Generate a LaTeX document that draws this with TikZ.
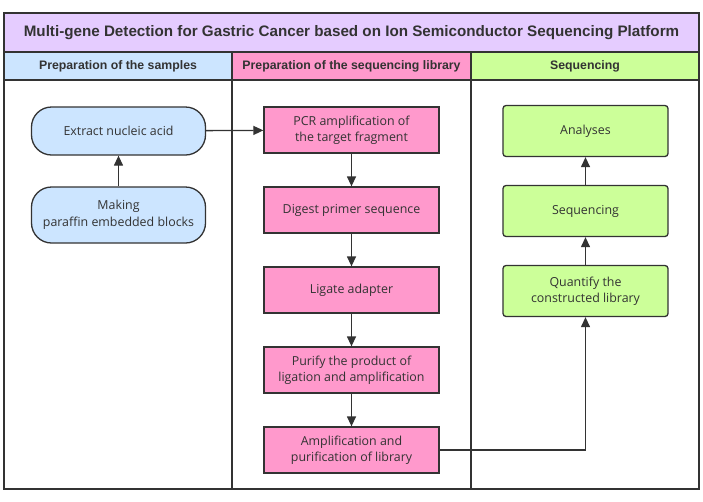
\documentclass[tikz,border=0pt]{standalone}
\usepackage{fontspec}
\setmainfont{Open Sans}
\newfontfamily\headfont{Liberation Sans}
\usetikzlibrary{arrows.meta}

\definecolor{titlefill}{HTML}{E5CCFF}
\definecolor{bluefill}{HTML}{CCE5FF}
\definecolor{pinkfill}{HTML}{FF99CC}
\definecolor{greenfill}{HTML}{CCFF99}
\definecolor{linegray}{HTML}{333333}

\tikzset{
  band/.style={draw=linegray,line width=1.3pt,inner sep=0pt,text=linegray},
  titleband/.style={band,fill=titlefill,minimum width=695pt,minimum height=39pt,
    font=\headfont\bfseries\fontsize{15.2}{18}\selectfont},
  headband/.style={band,minimum height=28pt,
    font=\headfont\bfseries\fontsize{12.3}{14}\selectfont},
  stepnode/.style={draw=linegray,line width=1.3pt,text=linegray,align=center,
    inner sep=0pt,font=\fontsize{12.4}{16.5}\selectfont},
  samplenode/.style={stepnode,fill=bluefill,rounded corners=20pt,
    minimum width=174pt},
  librarynode/.style={stepnode,fill=pinkfill,minimum width=175pt,minimum height=46pt},
  seqnode/.style={stepnode,fill=greenfill,rounded corners=3pt,
    minimum width=165pt,minimum height=51pt},
  flow/.style={draw=linegray,line width=1.3pt,-{Triangle[length=10pt,width=9pt]}}
}

\begin{document}
\begin{tikzpicture}[x=1pt,y=-1pt]
  \useasboundingbox (0,0) rectangle (703,501);
  % title
  \node[titleband] (title) at (351.5,32.5)
    {Multi-gene Detection for Gastric Cancer based on Ion Semiconductor Sequencing Platform};
  % lanes
  \node[headband,fill=bluefill,minimum width=228pt] (head1) at (118,66)
    {Preparation of the samples};
  \node[headband,fill=pinkfill,minimum width=239pt] (head2) at (351.5,66)
    {Preparation of the sequencing library};
  \node[headband,fill=greenfill,minimum width=228pt] (head3) at (585,66)
    {Sequencing};
  \draw[band] (4,80) rectangle (232,489);
  \draw[band] (232,80) rectangle (471,489);
  \draw[band] (471,80) rectangle (699,489);
  % samples
  \node[samplenode,minimum height=48pt] (extract) at (118.5,131) {Extract nucleic acid};
  \node[samplenode,minimum height=56pt] (paraffin) at (118.5,215)
    {Making\\paraffin embedded blocks};
  % library
  \node[librarynode] (pcr) at (351.5,130) {PCR amplification of\\the target fragment};
  \node[librarynode] (digest) at (351.5,210) {Digest primer sequence};
  \node[librarynode] (ligate) at (351.5,290) {Ligate adapter};
  \node[librarynode] (purify) at (351.5,370) {Purify the product of\\ligation and amplification};
  \node[librarynode] (amplify) at (351.5,450) {Amplification and\\purification of library};
  % sequencing
  \node[seqnode] (analyses) at (585.5,131) {Analyses};
  \node[seqnode] (sequencing) at (585.5,211) {Sequencing};
  \node[seqnode] (quantify) at (585.5,291) {Quantify the\\constructed library};
  % arrows
  \draw[flow] (paraffin) -- (extract);
  \draw[flow] (extract) -- (pcr);
  \draw[flow] (pcr) -- (digest);
  \draw[flow] (digest) -- (ligate);
  \draw[flow] (ligate) -- (purify);
  \draw[flow] (purify) -- (amplify);
  \draw[flow] (amplify.east) -| (quantify.south);
  \draw[flow] (quantify) -- (sequencing);
  \draw[flow] (sequencing) -- (analyses);
\end{tikzpicture}
\end{document}
